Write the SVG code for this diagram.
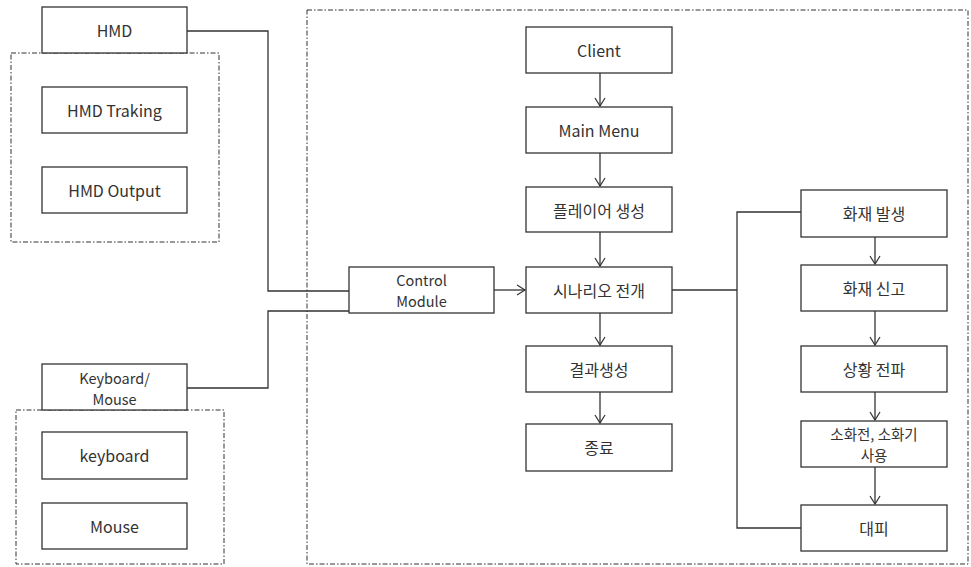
<svg xmlns="http://www.w3.org/2000/svg" width="971" height="567" viewBox="0 0 971 567">
<style>
.b{fill:#fff;stroke:#333;stroke-width:1.3}
.g{fill:none;stroke:#333;stroke-width:1;stroke-dasharray:5 2 1.5 2}
.c{fill:none;stroke:#333;stroke-width:1.3}
text{font-family:"Noto Sans CJK KR","Noto Sans",sans-serif;font-size:16px;fill:#333;text-anchor:middle;dominant-baseline:central}
text.s{font-size:14.5px}
</style>
<defs>
<marker id="a" markerWidth="12" markerHeight="12" refX="10" refY="6" orient="auto" markerUnits="userSpaceOnUse">
<path d="M2,1 L10,6 L2,11" fill="none" stroke="#333" stroke-width="1.2"/>
</marker>
</defs>
<rect width="971" height="567" fill="#fff"/>
<g id="groups">
<rect class="g" x="11" y="53" width="208" height="189"/>
<rect class="g" x="16" y="410" width="208" height="154"/>
<rect class="g" x="307" y="10" width="661" height="554"/>
</g>
<g id="connectors">
<path class="c" d="M187,31 H268 V291 H349"/>
<path class="c" d="M187,388 H268 V311 H349"/>
<path class="c" d="M494,290 H525" marker-end="url(#a)"/>
<path class="c" d="M600,73 V106" marker-end="url(#a)"/>
<path class="c" d="M600,153 V186" marker-end="url(#a)"/>
<path class="c" d="M600,232 V266" marker-end="url(#a)"/>
<path class="c" d="M600,313 V345" marker-end="url(#a)"/>
<path class="c" d="M600,392 V423" marker-end="url(#a)"/>
<path class="c" d="M672,290 H737" stroke-width="2"/>
<path class="c" d="M801,212 H737 V528 H801"/>
<path class="c" d="M875,237 V264" marker-end="url(#a)"/>
<path class="c" d="M875,311 V345" marker-end="url(#a)"/>
<path class="c" d="M875,392 V420" marker-end="url(#a)"/>
<path class="c" d="M875,467 V504" marker-end="url(#a)"/>
</g>
<g id="hmd"><rect class="b" x="42" y="7" width="145" height="46"/><text x="114.5" y="30">HMD</text></g>
<g id="hmd-tracking"><rect class="b" x="42" y="87" width="145" height="46"/><text x="114.5" y="110">HMD Traking</text></g>
<g id="hmd-output"><rect class="b" x="42" y="167" width="145" height="46"/><text x="114.5" y="190">HMD Output</text></g>
<g id="keyboard-mouse"><rect class="b" x="42" y="364" width="145" height="46"/><text class="s" x="114.5" y="377">Keyboard/</text><text class="s" x="114.5" y="398">Mouse</text></g>
<g id="keyboard"><rect class="b" x="42" y="432" width="145" height="47"/><text x="114.5" y="455">keyboard</text></g>
<g id="mouse"><rect class="b" x="42" y="503" width="145" height="46"/><text x="114.5" y="526">Mouse</text></g>
<g id="control-module"><rect class="b" x="349" y="267" width="145" height="46"/><text class="s" x="421.5" y="279">Control</text><text class="s" x="421.5" y="300">Module</text></g>
<g id="client"><rect class="b" x="526" y="27" width="146" height="46"/><text x="599" y="50">Client</text></g>
<g id="main-menu"><rect class="b" x="526" y="107" width="146" height="46"/><text x="599" y="130">Main Menu</text></g>
<g id="player"><rect class="b" x="526" y="187" width="146" height="45"/><text x="599" y="210">플레이어 생성</text></g>
<g id="scenario"><rect class="b" x="526" y="267" width="146" height="46"/><text x="599" y="290">시나리오 전개</text></g>
<g id="result"><rect class="b" x="526" y="346" width="146" height="46"/><text x="599" y="369">결과생성</text></g>
<g id="end"><rect class="b" x="526" y="424" width="146" height="47"/><text x="599" y="447">종료</text></g>
<g id="fire"><rect class="b" x="801" y="190" width="146" height="47"/><text x="874" y="213">화재 발생</text></g>
<g id="report"><rect class="b" x="801" y="265" width="146" height="46"/><text x="874" y="288">화재 신고</text></g>
<g id="spread"><rect class="b" x="801" y="346" width="146" height="46"/><text x="874" y="369">상황 전파</text></g>
<g id="extinguish"><rect class="b" x="801" y="421" width="146" height="46"/><text class="s" x="874" y="433">소화전, 소화기</text><text class="s" x="874" y="454">사용</text></g>
<g id="evacuate"><rect class="b" x="801" y="505" width="146" height="46"/><text x="874" y="528">대피</text></g>
</svg>
